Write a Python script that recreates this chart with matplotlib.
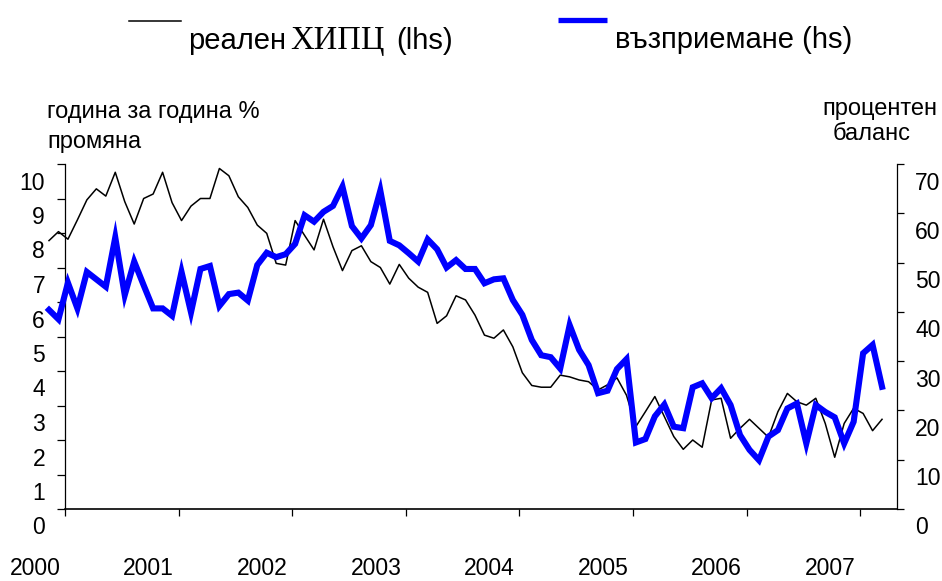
import matplotlib
matplotlib.use("Agg")
import matplotlib.pyplot as plt
from matplotlib.lines import Line2D
from matplotlib.transforms import ScaledTranslation
import numpy as np

# monthly observations, first one sits a little left of the y axis
cpi = [7.78, 8.04, 7.82, 8.38, 8.96, 9.28, 9.07, 9.76, 8.91, 8.26,
       9.00, 9.13, 9.76, 8.88, 8.36, 8.78, 9.00, 9.00, 9.87, 9.66,
       9.05, 8.74, 8.23, 7.99, 7.12, 7.07, 8.36, 7.93, 7.51, 8.40,
       7.60, 6.91, 7.49, 7.63, 7.17, 7.00, 6.52, 7.09, 6.69, 6.43,
       6.28, 5.38, 5.60, 6.18, 6.06, 5.62, 5.04, 4.95, 5.19, 4.70,
       3.95, 3.58, 3.53, 3.53, 3.88, 3.83, 3.74, 3.69, 3.45, 3.60,
       3.80, 3.30, 2.39, 2.82, 3.26, 2.68, 2.10, 1.73, 2.00, 1.79,
       3.16, 3.21, 2.05, 2.34, 2.60, 2.34, 2.08, 2.82, 3.35, 3.11,
       3.01, 3.21, 2.48, 1.50, 2.48, 2.92, 2.77, 2.27, 2.60]
perception = [40.4, 38.5, 45.9, 40.7, 48.1, 46.6, 45.1, 55.1, 43.4, 50.2,
              45.4, 40.7, 40.7, 39.2, 48.1, 39.9, 48.7, 49.3, 41.2, 43.6,
              43.9, 42.3, 49.5, 52.0, 51.1, 51.7, 53.8, 59.6, 58.3, 60.3,
              61.5, 65.4, 57.4, 54.9, 57.6, 64.6, 54.4, 53.5, 51.9, 50.2,
              54.7, 52.7, 49.0, 50.5, 48.7, 48.7, 45.8, 46.6, 46.8, 42.4,
              39.4, 34.3, 31.2, 30.8, 28.5, 37.3, 32.3, 29.2, 23.5, 24.0,
              28.4, 30.4, 13.5, 14.2, 18.8, 21.2, 16.7, 16.4, 24.7, 25.5,
              22.5, 24.5, 21.1, 15.0, 12.0, 9.9, 14.7, 16.0, 20.4, 21.4,
              13.3, 21.1, 19.7, 18.6, 13.3, 17.7, 31.6, 33.3, 24.8]
years = ["2000", "2001", "2002", "2003", "2004", "2005", "2006", "2007"]
left_ticks = list(range(0, 11))
right_ticks = list(range(0, 71, 10))

SANS = ["Liberation Sans", "DejaVu Sans"]
SERIF = ["Liberation Serif", "DejaVu Serif"]
plt.rcParams["font.family"] = SANS

W, H = 942, 581
fig = plt.figure(figsize=(W / 100, H / 100), dpi=100)
ax = fig.add_axes([65 / W, 1 - 509 / H, (897 - 65) / W, (509 - 164) / H])
ax2 = ax.twinx()

x = np.arange(len(cpi))
ax.plot(x, cpi, color="black", lw=1.1, clip_on=False, zorder=3)
ax2.plot(x, perception, color="#0000FF", lw=4.4, clip_on=False,
         solid_joinstyle="miter", zorder=3)

ax.set_xlim(1.69, 89.58)
ax.set_ylim(0, 10)
ax2.set_ylim(0, 70)

year_pos = [1.7 + 12 * k for k in range(len(years))]
ax.set_xticks(year_pos, labels=years)
ax.set_yticks(left_ticks)
ax2.set_yticks(right_ticks)

for a in (ax, ax2):
    a.spines["top"].set_visible(False)
ax.spines["right"].set_visible(False)
ax2.spines["left"].set_visible(False)
ax2.spines["bottom"].set_visible(False)
ax.spines["left"].set_linewidth(0.9)
ax2.spines["right"].set_linewidth(0.9)
ax.spines["bottom"].set_linewidth(1.2)

ax.tick_params(axis="y", direction="out", length=5.8, width=0.9, pad=8.6, labelsize=16.5)
ax2.tick_params(axis="y", direction="out", length=5.0, width=0.9, pad=8.0, labelsize=16.5)
ax.tick_params(axis="x", direction="out", length=5.0, width=0.9, pad=29.5, labelsize=16.5)


def shift(labels, dx, dy):
    off = ScaledTranslation(dx / fig.dpi, dy / fig.dpi, fig.dpi_scale_trans)
    for lab in labels:
        lab.set_transform(lab.get_transform() + off)


shift(ax.get_yticklabels(), 0, -16.5)
shift(ax2.get_yticklabels(), 0, -16.5)
shift(ax.get_xticklabels(), -30, 0)


def fx(px):
    return px / W


def fy(py):
    return 1 - py / H


# legend drawn by hand like the original
fig.add_artist(Line2D([fx(129), fx(181)], [fy(21), fy(21)], color="black", lw=1.1))
fig.add_artist(Line2D([fx(558), fx(607)], [fy(20), fy(20)], color="#0000FF", lw=3.8,
                      solid_capstyle="butt"))
fig.text(fx(188), fy(49), "реален", fontsize=21, va="baseline", family=SANS)
fig.text(fx(290), fy(49), "ХИПЦ", fontsize=23.5, va="baseline", family=SERIF)
fig.text(fx(396), fy(49), "(lhs)", fontsize=21, va="baseline", family=SANS)
fig.text(fx(615), fy(48), "възприемане (hs)", fontsize=21, va="baseline")

fig.text(fx(47), fy(118), "година за година %", fontsize=17, va="baseline")
fig.text(fx(47), fy(148), "промяна", fontsize=17, va="baseline")
fig.text(fx(880), fy(115), "процентен", fontsize=17, va="baseline", ha="center")
fig.text(fx(872), fy(140), "баланс", fontsize=17, va="baseline", ha="center")

fig.savefig("out.png", dpi=100)
